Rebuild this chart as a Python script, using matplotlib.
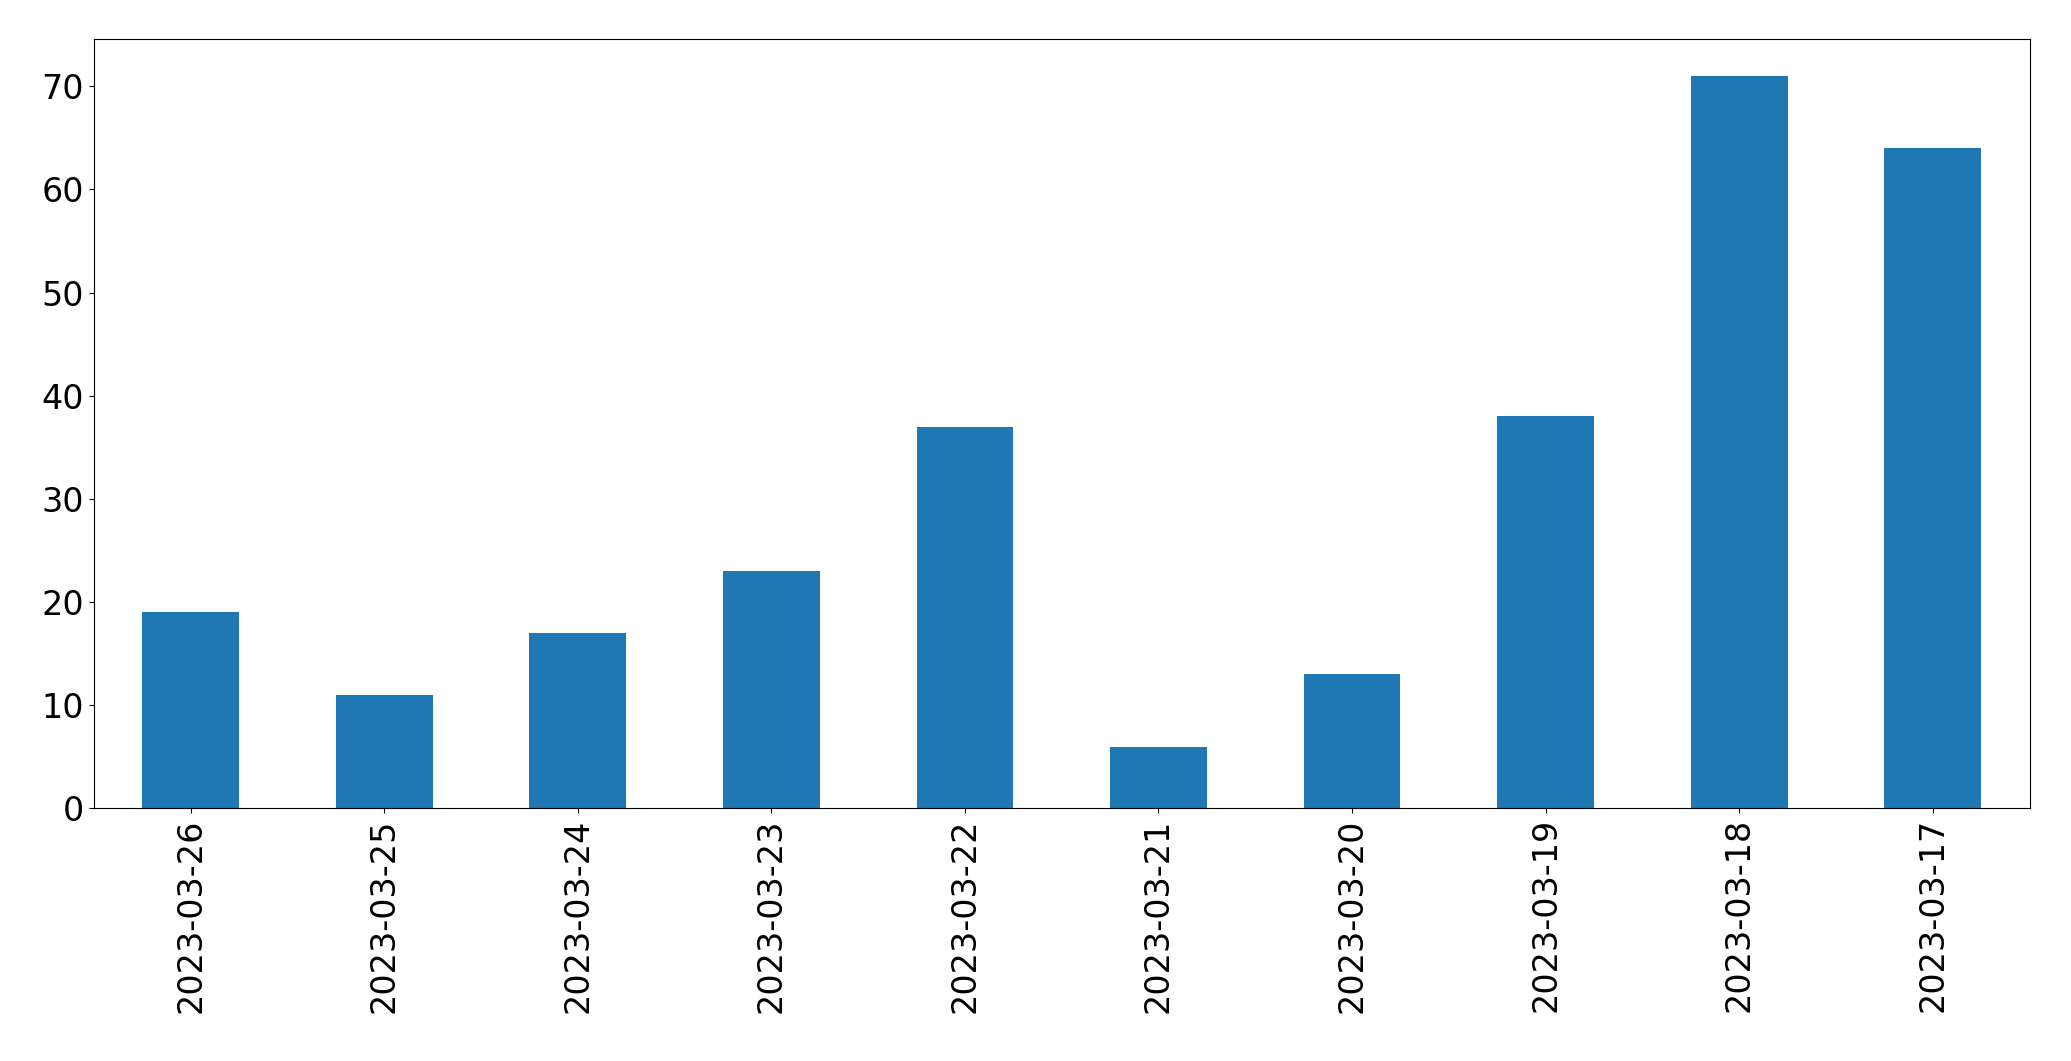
import matplotlib
matplotlib.use("Agg")
import matplotlib.pyplot as plt

dates = ["2023-03-26","2023-03-25","2023-03-24","2023-03-23","2023-03-22",
         "2023-03-21","2023-03-20","2023-03-19","2023-03-18","2023-03-17"]
counts = [19, 11, 17, 23, 37, 6, 13, 38, 71, 64]

fig = plt.figure(figsize=(20.71, 10.61), dpi=100)
ax = fig.add_axes([0.0453, 0.238, 0.9347, 0.725])
x = range(len(dates))
ax.bar(x, counts, width=0.5, color="#1f77b4")
ax.set_xlim(-0.5, len(dates) - 0.5)
ax.set_ylim(0, max(counts) * 1.05)
ax.set_xticks(list(x))
ax.set_xticklabels(dates, rotation=90)
ax.tick_params(labelsize=24)
fig.savefig("out.png", dpi=100)
